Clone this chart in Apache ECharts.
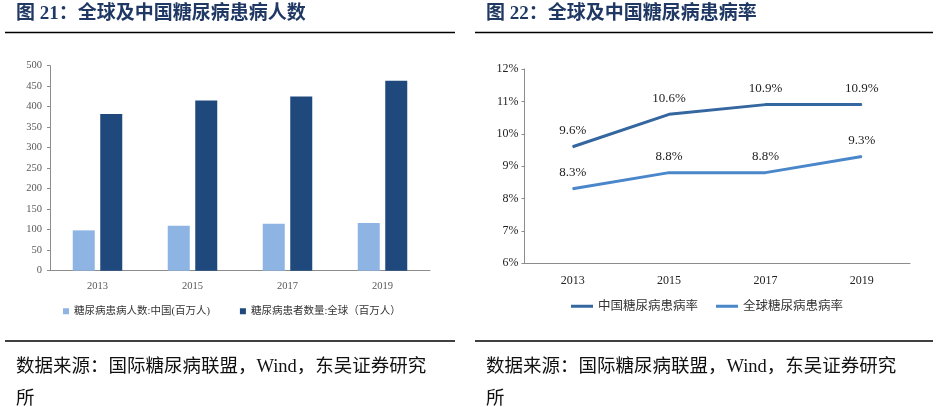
<!DOCTYPE html>
<html>
<head>
<meta charset="utf-8">
<script src="https://cdn.jsdelivr.net/npm/echarts@6/dist/echarts.min.js"></script>
<style>
html,body{margin:0;padding:0;background:#fff;}
#c{width:941px;height:407px;}
</style>
</head>
<body>
<div id="c"></div>
<script>
// ---- data ----
var years = ['2013', '2015', '2017', '2019'];
var chinaPatients = [98.4, 109.6, 114.4, 116.4];
var globalPatients = [382, 415, 425, 463];
var chinaRate = [9.6, 10.6, 10.9, 10.9];
var globalRate = [8.3, 8.8, 8.8, 9.3];
var leftTicks = [0, 50, 100, 150, 200, 250, 300, 350, 400, 450, 500];
var rightTicks = [6, 7, 8, 9, 10, 11, 12];
var barNames = ['糖尿病患病人数:中国(百万人)', '糖尿病患者数量:全球（百万人）'];
var lineNames = ['中国糖尿病患病率', '全球糖尿病患病率'];
var titleLeft = '图 21：全球及中国糖尿病患病人数';
var titleRight = '图 22：全球及中国糖尿病患病率';
var sourceText = '数据来源：国际糖尿病联盟，Wind，东吴证券研究\n所';

var serif = '"Liberation Serif","Times New Roman","Noto Sans CJK SC",serif';
var cjk = '"Liberation Serif","Noto Sans CJK SC",sans-serif';

var chart = echarts.init(document.getElementById('c'), null, {renderer: 'canvas'});
var pctFmt = function (p) { return p.value.toFixed(1) + '%'; };
var option = {
  animation: false,
  backgroundColor: '#fff',
  grid: [
    {left: 50, right: 511, top: 65.7, bottom: 136.3},
    {left: 524.5, right: 31, top: 69, bottom: 143.7}
  ],
  legend: [
    {
      data: barNames, left: 58, top: 301, itemWidth: 6, itemHeight: 6, icon: 'rect',
      itemGap: 30, textStyle: {fontSize: 10.5, color: '#333', fontFamily: cjk}
    },
    {
      data: lineNames, left: 566, top: 295, itemWidth: 22, itemHeight: 3, icon: 'rect',
      itemGap: 18, textStyle: {fontSize: 12.5, color: '#333', fontFamily: cjk}
    }
  ],
  xAxis: [
    {
      type: 'category', gridIndex: 0, data: years,
      axisLine: {lineStyle: {color: '#8c8c8c'}}, axisTick: {show: false},
      axisLabel: {fontSize: 10.5, color: '#595959', fontFamily: serif, margin: 10}
    },
    {
      type: 'category', gridIndex: 1, data: years,
      axisLine: {lineStyle: {color: '#8c8c8c'}}, axisTick: {show: false},
      axisLabel: {fontSize: 12, color: '#222', fontFamily: serif, margin: 12}
    }
  ],
  yAxis: [
    {
      type: 'value', gridIndex: 0, min: leftTicks[0], max: leftTicks[leftTicks.length - 1], interval: 50,
      axisLine: {show: true, lineStyle: {color: '#8c8c8c'}},
      axisTick: {show: true, length: 3, lineStyle: {color: '#8c8c8c'}},
      splitLine: {show: false},
      axisLabel: {fontSize: 10.5, color: '#595959', fontFamily: serif, margin: 8}
    },
    {
      type: 'value', gridIndex: 1, min: rightTicks[0], max: rightTicks[rightTicks.length - 1], interval: 1,
      axisLine: {show: true, lineStyle: {color: '#8c8c8c'}},
      axisTick: {show: true, length: 3, lineStyle: {color: '#8c8c8c'}},
      splitLine: {show: false},
      axisLabel: {fontSize: 12, color: '#222', fontFamily: serif, margin: 6, formatter: '{value}%'}
    }
  ],
  series: [
    {
      name: barNames[0], type: 'bar', xAxisIndex: 0, yAxisIndex: 0, data: chinaPatients,
      barWidth: 22, barGap: '25%', itemStyle: {color: '#8DB4E2'}
    },
    {
      name: barNames[1], type: 'bar', xAxisIndex: 0, yAxisIndex: 0, data: globalPatients,
      barWidth: 22, barGap: '25%', itemStyle: {color: '#1F497D'}
    },
    {
      name: lineNames[0], type: 'line', xAxisIndex: 1, yAxisIndex: 1, data: chinaRate,
      symbol: 'circle', symbolSize: 1, showSymbol: true,
      lineStyle: {width: 3, color: '#34669F'}, itemStyle: {color: '#34669F'},
      label: {show: true, position: 'top', distance: 9, fontSize: 13, color: '#222', fontFamily: serif, formatter: pctFmt}
    },
    {
      name: lineNames[1], type: 'line', xAxisIndex: 1, yAxisIndex: 1, data: globalRate,
      symbol: 'circle', symbolSize: 1, showSymbol: true,
      lineStyle: {width: 3, color: '#4A86CA'}, itemStyle: {color: '#4A86CA'},
      label: {show: true, position: 'top', distance: 9, fontSize: 13, color: '#222', fontFamily: serif, formatter: pctFmt}
    }
  ],
  graphic: [
    {type: 'text', left: 16, top: 5, style: {text: titleLeft, font: 'bold 19px ' + cjk, fill: '#1F3864'}},
    {type: 'text', left: 486, top: 5, style: {text: titleRight, font: 'bold 19px ' + cjk, fill: '#1F3864'}},
    {type: 'line', shape: {x1: 5, y1: 32.5, x2: 455, y2: 32.5}, style: {stroke: '#000', lineWidth: 1.5}},
    {type: 'line', shape: {x1: 475, y1: 32.5, x2: 933, y2: 32.5}, style: {stroke: '#000', lineWidth: 1.5}},
    {type: 'line', shape: {x1: 5, y1: 341, x2: 455, y2: 341}, style: {stroke: '#000', lineWidth: 1.5}},
    {type: 'line', shape: {x1: 475, y1: 341, x2: 933, y2: 341}, style: {stroke: '#000', lineWidth: 1.5}},
    {type: 'text', left: 16, top: 351, style: {text: sourceText, font: '18.5px ' + cjk, fill: '#111', lineHeight: 32}},
    {type: 'text', left: 486, top: 351, style: {text: sourceText, font: '18.5px ' + cjk, fill: '#111', lineHeight: 32}}
  ]
};
chart.setOption(option);
</script>
</body>
</html>
